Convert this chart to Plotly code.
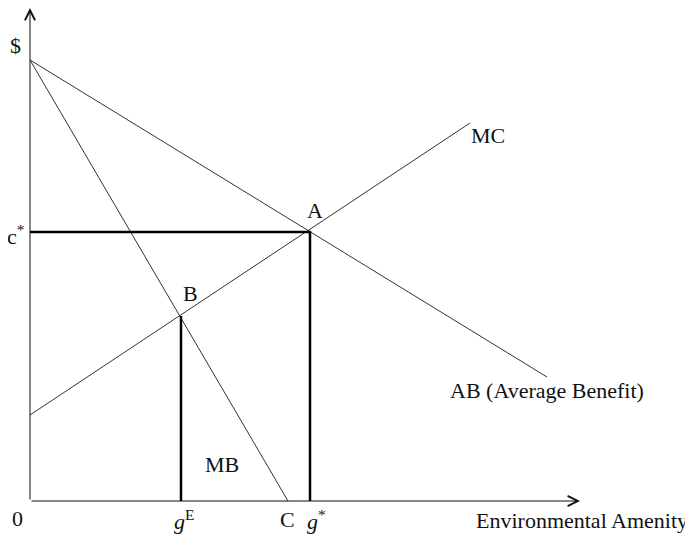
import plotly.graph_objects as go

# Values (1 unit = 10 px, origin at the axes' corner)
intercept = 44.1          # common $-intercept of AB and MB
mb_x = [0, 25.8]          # MB runs to C on the horizontal axis
mb_y = [intercept, 0]
ab_x = [0, 51.7]          # AB (Average Benefit)
ab_y = [intercept, 12.4]
mc_x = [0, 44.0]          # MC
mc_y = [8.6, 37.8]
point_a = (28.0, 26.9)    # AB meets MC  -> (g*, c*)
point_b = (15.1, 18.5)    # MB meets MC  -> g^E
x_axis_end = 55.0
y_axis_end = 49.3

FONT = dict(family="Liberation Serif, Times New Roman, serif", size=22, color="#111")
THIN = dict(color="#333", width=1)
THICK = dict(color="#000", width=2.5)

fig = go.Figure()
fig.add_trace(go.Scatter(x=ab_x, y=ab_y, mode="lines", line=THIN, hoverinfo="skip"))
fig.add_trace(go.Scatter(x=mb_x, y=mb_y, mode="lines", line=THIN, hoverinfo="skip"))
fig.add_trace(go.Scatter(x=mc_x, y=mc_y, mode="lines", line=THIN, hoverinfo="skip"))
# thick guide lines to A
fig.add_trace(go.Scatter(x=[0, point_a[0], point_a[0]], y=[point_a[1], point_a[1], 0],
                         mode="lines", line=THICK, hoverinfo="skip"))
# thick guide line from B
fig.add_trace(go.Scatter(x=[point_b[0], point_b[0]], y=[point_b[1], 0],
                         mode="lines", line=THICK, hoverinfo="skip"))

annotations = [
    # axes with open arrowheads
    dict(x=0, y=y_axis_end, ax=0, ay=0, xref="x", yref="y", axref="x", ayref="y",
         showarrow=True, arrowhead=5, arrowsize=2, arrowwidth=1, arrowcolor="#111",
         standoff=0, text=""),
    dict(x=x_axis_end, y=0, ax=0, ay=0, xref="x", yref="y", axref="x", ayref="y",
         showarrow=True, arrowhead=5, arrowsize=2, arrowwidth=1, arrowcolor="#111",
         standoff=0, text=""),
]

labels = [
    ("$", -1.5, 45.6, "center"),
    ("c<sup>*</sup>", -1.5, 26.6, "center"),
    ("0", -1.3, -1.7, "center"),
    ("<i>g</i><sup>E</sup>", 15.4, -1.9, "center"),
    ("C", 25.7, -1.8, "center"),
    ("<i>g</i><sup>*</sup>", 28.6, -1.9, "center"),
    ("Environmental Amenity", 66.0, -1.9, "right"),
    ("A", 28.5, 29.1, "center"),
    ("B", 16.0, 20.8, "center"),
    ("MC", 45.8, 36.6, "center"),
    ("MB", 19.2, 3.7, "center"),
    ("AB (Average Benefit)", 41.8, 11.1, "left"),
]
for text, x, y, anchor in labels:
    annotations.append(dict(x=x, y=y, xref="x", yref="y", text=text, showarrow=False,
                            xanchor=anchor, yanchor="middle", font=FONT))

fig.update_layout(
    width=685, height=532,
    margin=dict(l=0, r=0, t=0, b=0),
    paper_bgcolor="white", plot_bgcolor="white",
    showlegend=False,
    xaxis=dict(range=[-2.2, 66.3], visible=False, fixedrange=True),
    yaxis=dict(range=[-3.9, 49.3], visible=False, fixedrange=True),
    annotations=annotations,
)

fig.write_html("out.html")
